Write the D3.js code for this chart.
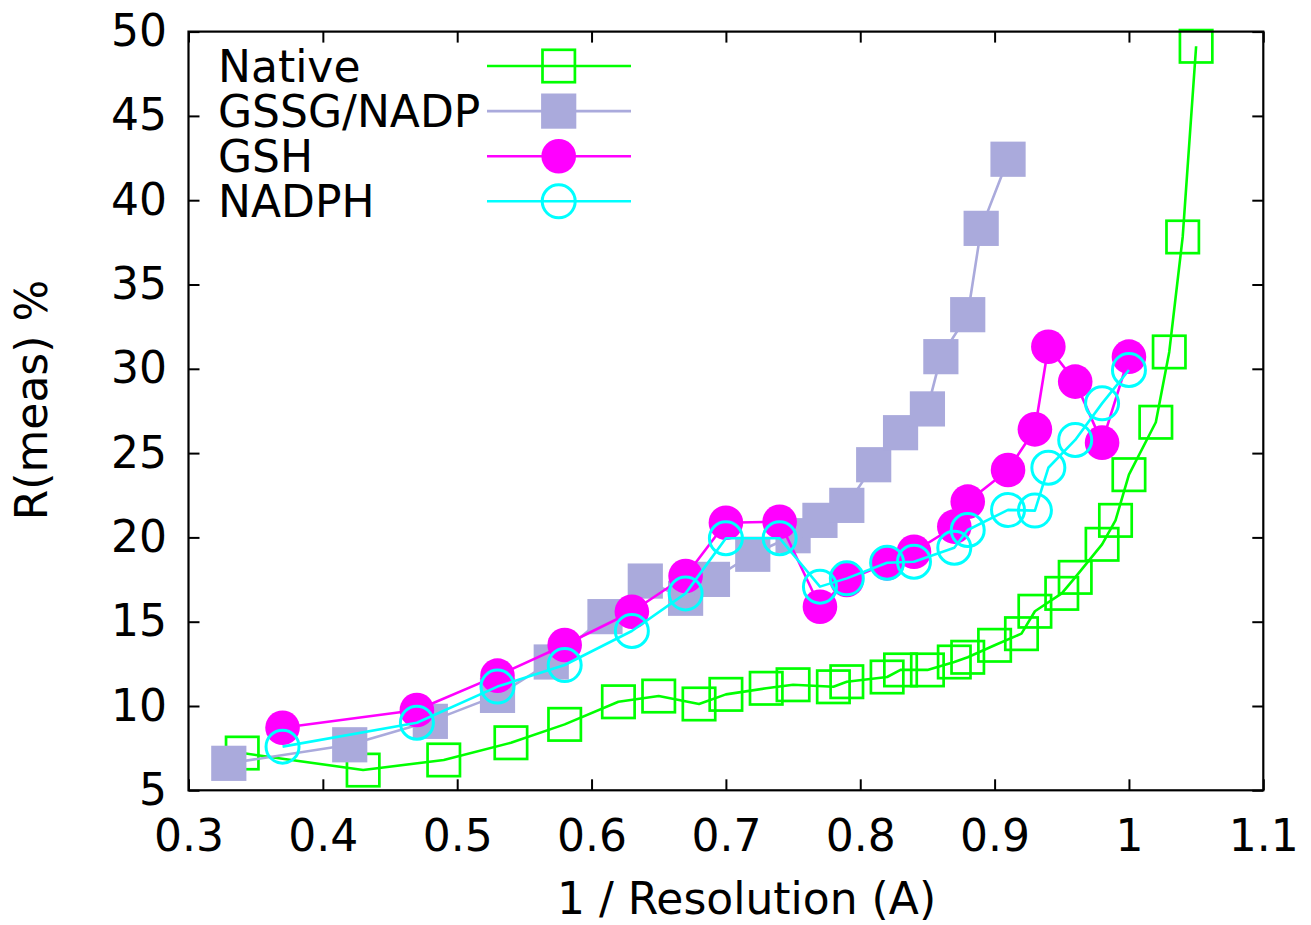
<!DOCTYPE html>
<html>
<head>
<meta charset="utf-8">
<script src="https://cdn.jsdelivr.net/npm/d3@7"></script>
<style>
html,body{margin:0;padding:0;background:#fff;}
svg{display:block;}
text{font-family:"DejaVu Sans",sans-serif;}
</style>
</head>
<body>
<svg id="chart" width="1311" height="925"></svg>
<script>
const xTicks = [0.3,0.4,0.5,0.6,0.7,0.8,0.9,1.0,1.1];
const xTickLabels = ["0.3","0.4","0.5","0.6","0.7","0.8","0.9","1","1.1"];
const yTicks = [5,10,15,20,25,30,35,40,45,50];

const nativeX = [0.34,0.43,0.49,0.54,0.58,0.62,0.65,0.68,0.70,0.73,0.75,0.78,0.79,0.82,0.83,0.85,0.87,0.88,0.90,0.92,0.93,0.95,0.96,0.98,0.99,1.00,1.02,1.03,1.04,1.05];
const nativeY = [7.21,6.20,6.80,7.82,8.91,10.25,10.59,10.12,10.69,11.05,11.26,11.14,11.44,11.72,12.14,12.14,12.61,12.89,13.60,14.29,15.62,16.68,17.63,19.59,21.01,23.72,26.83,31.0,37.82,49.13];

const gssgX = [0.33,0.42,0.48,0.53,0.57,0.61,0.64,0.67,0.69,0.72,0.75,0.77,0.79,0.81,0.83,0.85,0.86,0.88,0.89,0.91];
const gssgY = [6.60,7.70,9.09,10.63,12.61,15.30,17.41,16.39,17.51,19.0,20.10,21.01,21.90,24.31,26.21,27.62,30.72,33.21,38.33,42.43];

const gshX = [0.37,0.47,0.53,0.58,0.63,0.67,0.70,0.74,0.77,0.79,0.82,0.84,0.87,0.88,0.91,0.93,0.94,0.96,0.98,1.00];
const gshY = [8.71,9.76,11.80,13.62,15.59,17.71,20.87,20.93,15.89,17.47,18.46,19.15,20.64,22.12,24.0,26.41,31.31,29.24,25.62,30.72];

const nadphX = [0.37,0.47,0.53,0.58,0.63,0.67,0.70,0.74,0.77,0.79,0.82,0.84,0.87,0.88,0.91,0.93,0.94,0.96,0.98,1.00];
const nadphY = [7.59,9.01,11.15,12.43,14.45,16.68,19.95,19.95,17.08,17.57,18.50,18.56,19.39,20.44,21.63,21.59,24.13,25.78,27.95,29.93];

const seriesNames = ["Native","GSSG/NADP","GSH","NADPH"];
const seriesColors = ["#00ff00","#aaaadc","#ff00ff","#00ffff"];
const seriesMarkers = ["openSquare","filledSquare","filledCircle","openCircle"];

const series = [
  {xs: nativeX, ys: nativeY},
  {xs: gssgX, ys: gssgY},
  {xs: gshX, ys: gshY},
  {xs: nadphX, ys: nadphY}
].map((s,i)=>({name: seriesNames[i], color: seriesColors[i], marker: seriesMarkers[i],
  pts: s.xs.map((x,j)=>({x, y: s.ys[j]}))}));

const svg = d3.select("#chart");
const L = 188.5, R = 1263.3, T = 31.6, B = 790.3;
const x = d3.scaleLinear().domain([0.3,1.1]).range([L,R]);
const y = d3.scaleLinear().domain([5,50]).range([B,T]);

const FS = 44;

function drawMarker(g, type, color, cx, cy) {
  if (type === "openSquare") {
    g.append("rect").attr("x", cx-16.2).attr("y", cy-16.2).attr("width",32.4).attr("height",32.4)
      .attr("fill","none").attr("stroke",color).attr("stroke-width",2.7);
  } else if (type === "filledSquare") {
    g.append("rect").attr("x", cx-17.6).attr("y", cy-17.6).attr("width",35.2).attr("height",35.2)
      .attr("fill",color);
  } else if (type === "filledCircle") {
    g.append("circle").attr("cx",cx).attr("cy",cy).attr("r",17.3).attr("fill",color);
  } else {
    g.append("circle").attr("cx",cx).attr("cy",cy).attr("r",16.5)
      .attr("fill","none").attr("stroke",color).attr("stroke-width",3);
  }
}

// axes (inward ticks, mirrored)
const axB = svg.append("g").attr("transform",`translate(0,${B})`)
  .call(d3.axisBottom(x).tickValues(xTicks).tickFormat((d,i)=>xTickLabels[i]).tickSize(-11).tickPadding(29.5));
const axT = svg.append("g").attr("transform",`translate(0,${T})`)
  .call(d3.axisTop(x).tickValues(xTicks).tickFormat("").tickSize(-11));
const axL = svg.append("g").attr("transform",`translate(${L},0)`)
  .call(d3.axisLeft(y).tickValues(yTicks).tickFormat(d3.format("d")).tickSize(-11).tickPadding(21.5));
const axR = svg.append("g").attr("transform",`translate(${R},0)`)
  .call(d3.axisRight(y).tickValues(yTicks).tickFormat("").tickSize(-11));

[axB,axT,axL,axR].forEach(a=>{
  a.select(".domain").remove();
  a.selectAll(".tick line").attr("stroke","#000").attr("stroke-width",2);
  a.selectAll(".tick text").attr("fill","#000").style("font-size",FS+"px").style("font-family","DejaVu Sans");
});

// data
const line = d3.line().x(d=>x(d.x)).y(d=>y(d.y));
const plot = svg.append("g");
series.forEach(s=>{
  const g = plot.append("g");
  g.append("path").datum(s.pts).attr("d",line).attr("fill","none")
    .attr("stroke",s.color).attr("stroke-width",2.6).attr("stroke-linejoin","round");
  s.pts.forEach(p=>drawMarker(g, s.marker, s.color, x(p.x), y(p.y)));
});

// frame
svg.append("rect").attr("x",L).attr("y",T).attr("width",R-L).attr("height",B-T)
  .attr("fill","none").attr("stroke","#000").attr("stroke-width",2.2);

// legend
const legY0 = 66, legDY = 45.1;
series.forEach((s,i)=>{
  const cy = legY0 + i*legDY;
  const g = svg.append("g");
  g.append("text").attr("x",218).attr("y",cy+16).style("font-size",FS+"px").attr("fill","#000").text(s.name);
  g.append("line").attr("x1",487).attr("x2",631).attr("y1",cy).attr("y2",cy)
    .attr("stroke",s.color).attr("stroke-width",2.6);
  drawMarker(g, s.marker, s.color, 558.7, cy);
});

// axis titles
svg.append("text").attr("x",746.5).attr("y",914).attr("text-anchor","middle")
  .style("font-size",FS+"px").attr("fill","#000").text("1 / Resolution (A)");
svg.append("text").attr("transform","translate(46.5,400) rotate(-90)").attr("text-anchor","middle")
  .style("font-size",FS+"px").attr("fill","#000").text("R(meas) %");
</script>
</body>
</html>
